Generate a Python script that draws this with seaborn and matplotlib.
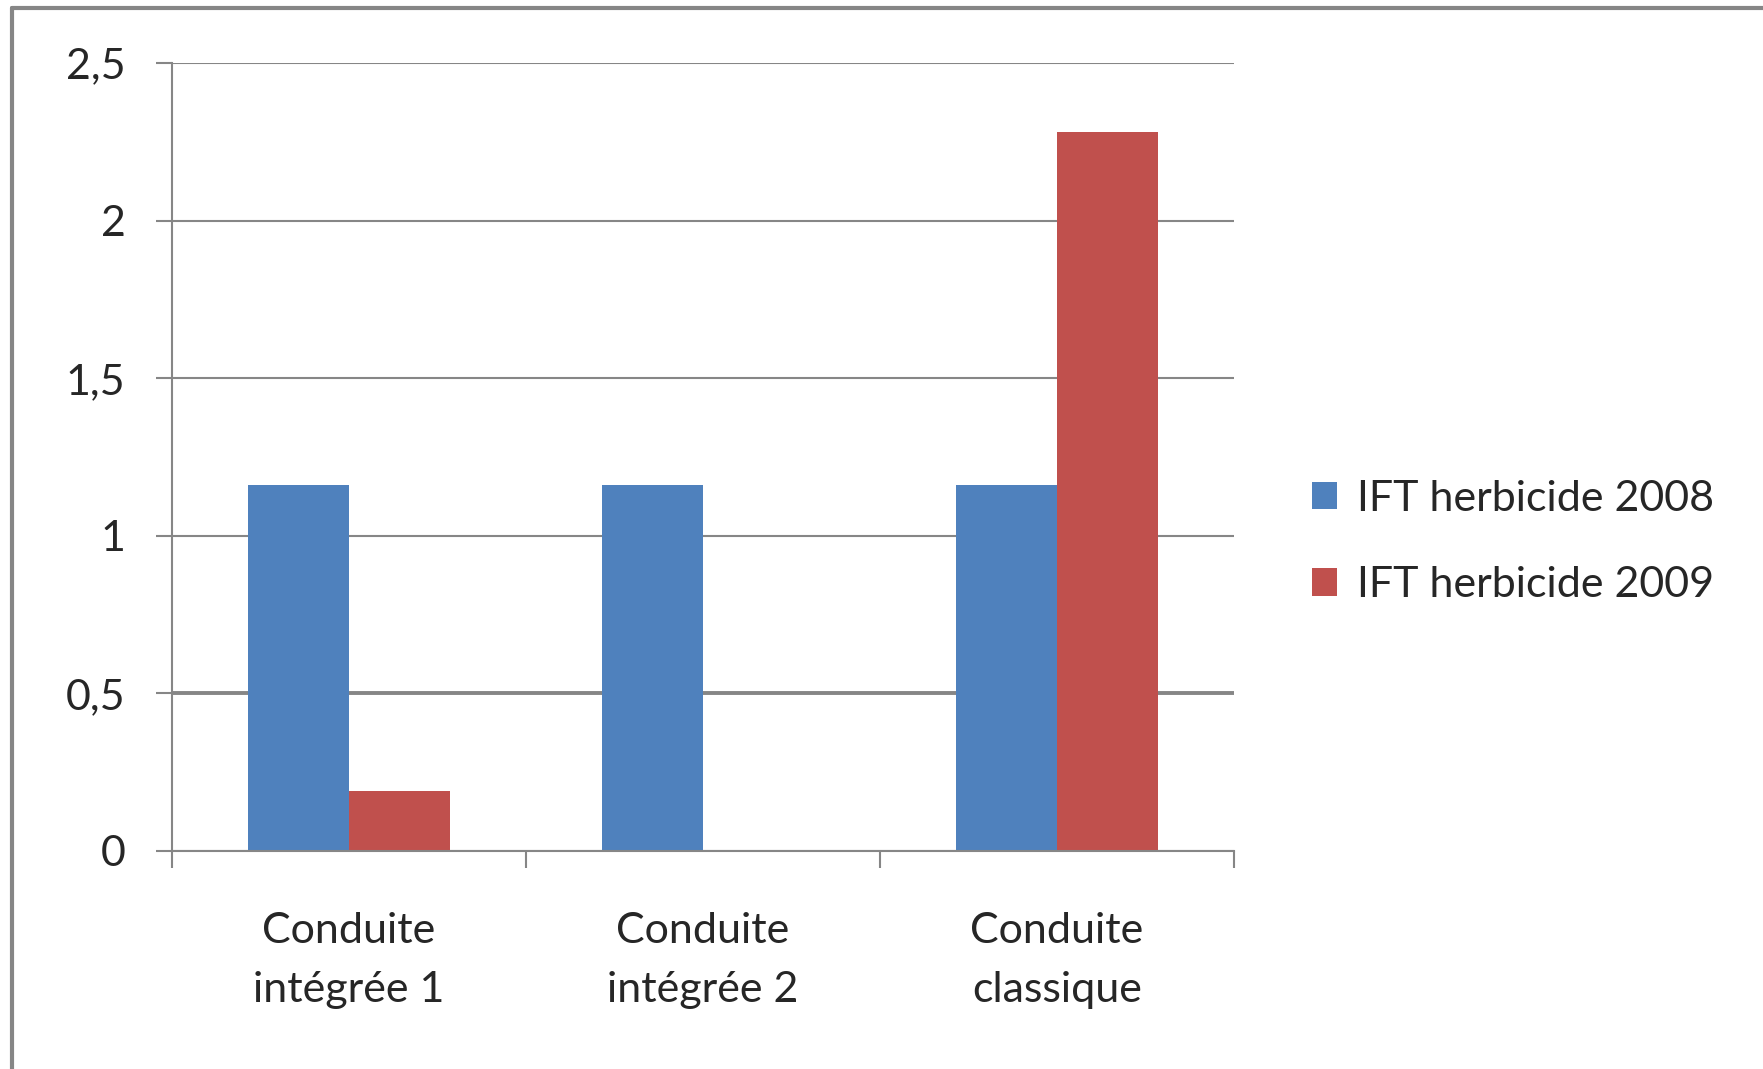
import pandas as pd
import numpy as np
import matplotlib.pyplot as plt
import seaborn as sns
from matplotlib.lines import Line2D
from matplotlib.patches import Patch

# data
categories = ["Conduite\nintégrée 1", "Conduite\nintégrée 2", "Conduite\nclassique"]
ift_2008 = [1.16, 1.16, 1.16]
ift_2009 = [0.19, 0.0, 2.28]
series_names = ["IFT herbicide 2008", "IFT herbicide 2009"]
y_ticks = [0, 0.5, 1, 1.5, 2, 2.5]
y_tick_labels = ["0", "0,5", "1", "1,5", "2", "2,5"]

colors = ["#4F81BD", "#C0504D"]
grid_col = "#868686"

df = pd.DataFrame({
    "categorie": categories * 2,
    "valeur": ift_2008 + ift_2009,
    "serie": [series_names[0]] * 3 + [series_names[1]] * 3,
})

sns.set_style("white")
plt.rcParams["font.family"] = ["Lato", "DejaVu Sans"]

fig = plt.figure(figsize=(17.63, 10.69), dpi=100)
ax = fig.add_axes([0.0976, 0.204, 0.6024, 0.737])

sns.barplot(data=df, x="categorie", y="valeur", hue="serie", palette=colors,
            width=0.571, saturation=1, linewidth=0, ax=ax, legend=False)

ax.set_xlim(-0.5, 2.5)
ax.set_ylim(0, 2.5)

# y axis: gridlines extend left as tick marks
ax.set_yticks(y_ticks)
ax.set_yticklabels(y_tick_labels, fontsize=31)
ax.yaxis.grid(True, color=grid_col, linewidth=1.5)
ax.set_axisbelow(True)
ax.tick_params(axis="y", length=11.5, width=1.5, color=grid_col, pad=22, left=True)
# the 0,5 gridline is drawn heavier in the original
for line, v in zip(ax.get_ygridlines(), y_ticks):
    if v == 0.5:
        line.set_linewidth(2.8)

# x axis: ticks at category boundaries, labels centered
ax.set_xticks([-0.5, 0.5, 1.5, 2.5])
ax.set_xticklabels([])
ax.set_xticks([0, 1, 2], minor=True)
ax.set_xticklabels(categories, minor=True, fontsize=31, linespacing=1.67)
ax.tick_params(axis="x", which="major", length=12, width=1.5, color=grid_col, bottom=True)
ax.tick_params(axis="x", which="minor", length=0, pad=44)
ax.set_xlabel("")
ax.set_ylabel("")

for side in ["top", "right"]:
    ax.spines[side].set_visible(False)
for side in ["left", "bottom"]:
    ax.spines[side].set_color(grid_col)
    ax.spines[side].set_linewidth(1.5)

# legend on the right
handles = [Patch(facecolor=c, edgecolor="none") for c in colors]
fig.legend(handles, series_names, loc="center left", bbox_to_anchor=(0.722, 0.493),
           frameon=False, fontsize=31, handlelength=0.6, handleheight=0.6,
           handletextpad=0.45, labelspacing=1.13)

# outer chart frame (only top and left edges visible)
fig.add_artist(Line2D([0.0068, 1.0], [0.9925, 0.9925], transform=fig.transFigure,
                      color=grid_col, linewidth=3))
fig.add_artist(Line2D([0.0068, 0.0068], [0.0, 0.9925], transform=fig.transFigure,
                      color=grid_col, linewidth=3))

fig.savefig("out.png", dpi=100)
